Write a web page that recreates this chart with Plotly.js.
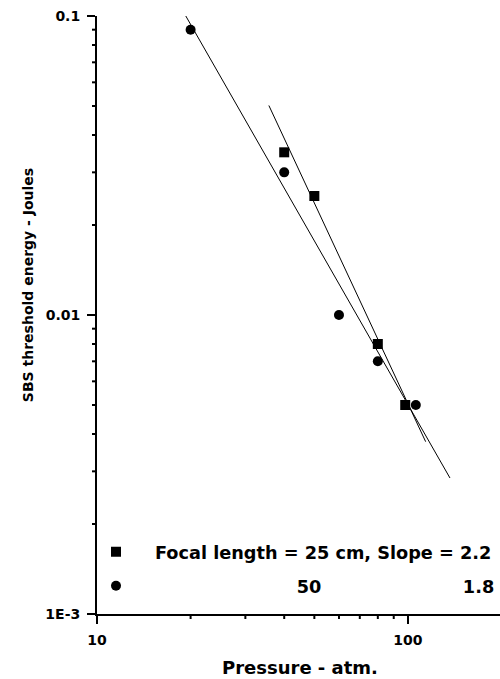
<!DOCTYPE html>
<html>
<head>
<meta charset="utf-8">
<script src="https://cdn.plot.ly/plotly-3.0.1.min.js"></script>
<style>
html,body{margin:0;padding:0;background:#fff;}
#chart{width:500px;height:679px;}
</style>
</head>
<body>
<div id="chart"></div>
<script>
// Focal length 25 cm (squares)
const pressure25 = [40, 50, 80, 98];
const energy25 = [0.035, 0.025, 0.008, 0.005];
// Focal length 50 cm (circles)
const pressure50 = [20, 40, 60, 80, 106];
const energy50 = [0.09, 0.03, 0.01, 0.007, 0.005];
// fitted lines (end points)
const fit25X = [35.7, 114];
const fit25Y = [0.0502, 0.00377];
const fit50X = [19.3, 136.5];
const fit50Y = [0.1, 0.00285];
// ticks
const xMajorVals = [10, 100];
const xMajorText = ['10', '100'];
const xMinorVals = [20, 30, 40, 50, 60, 70, 80, 90];
const yMajorVals = [0.001, 0.01, 0.1];
const yMajorText = ['1E-3', '0.01', '0.1'];
const yMinorVals = [0.002, 0.003, 0.004, 0.005, 0.006, 0.007, 0.008, 0.009,
                    0.02, 0.03, 0.04, 0.05, 0.06, 0.07, 0.08, 0.09];
const NB = '\u00a0';
const legendNames = ['Focal length = 25 cm, Slope = 2.2',
  NB.repeat(23) + '50' + NB.repeat(23) + '1.8'];

const FONT = 'DejaVu Sans, Arial, sans-serif';
const W = 500, H = 679, M = {l: 97, r: 0, t: 16, b: 65};
const plotW = W - M.l - M.r, plotH = H - M.t - M.b;
const X_RANGE = [1, 2.296];   // log10 range
const Y_RANGE = [-3, -1];     // log10 range
const MINOR_LEN = 5;

const traces = [
  {x: fit50X, y: fit50Y, mode: 'lines', line: {color: '#000', width: 1}, showlegend: false, hoverinfo: 'skip'},
  {x: fit25X, y: fit25Y, mode: 'lines', line: {color: '#000', width: 1}, showlegend: false, hoverinfo: 'skip'},
  {x: pressure25, y: energy25, mode: 'markers', name: legendNames[0], legendgroup: 'a',
   marker: {symbol: 'square', size: 10, color: '#000'}},
  {x: pressure50, y: energy50, mode: 'markers', name: legendNames[1], legendgroup: 'b',
   marker: {symbol: 'circle', size: 10, color: '#000'}}
];

// minor tick marks, placed in paper fractions from the log axis ranges
const xFrac = v => (Math.log10(v) - X_RANGE[0]) / (X_RANGE[1] - X_RANGE[0]);
const yFrac = v => (Math.log10(v) - Y_RANGE[0]) / (Y_RANGE[1] - Y_RANGE[0]);
const shapes = [];
xMinorVals.forEach(v => shapes.push({
  type: 'line', xref: 'paper', yref: 'paper', layer: 'above',
  x0: xFrac(v), x1: xFrac(v), y0: 0, y1: -MINOR_LEN / plotH,
  line: {color: '#000', width: 2}
}));
yMinorVals.forEach(v => shapes.push({
  type: 'line', xref: 'paper', yref: 'paper', layer: 'above',
  x0: 0, x1: -MINOR_LEN / plotW, y0: yFrac(v), y1: yFrac(v),
  line: {color: '#000', width: 2}
}));

const tickFont = {family: FONT, size: 14, color: '#000', weight: 'bold'};

const layout = {
  width: W, height: H,
  margin: M,
  paper_bgcolor: '#fff', plot_bgcolor: '#fff',
  xaxis: {
    type: 'log', range: X_RANGE, showgrid: false, zeroline: false,
    showline: true, linecolor: '#000', linewidth: 2,
    tickmode: 'array', tickvals: xMajorVals, ticktext: xMajorText,
    ticks: 'outside', ticklen: 8, tickwidth: 2, tickcolor: '#000',
    ticklabelstandoff: 4, tickfont: tickFont
  },
  yaxis: {
    type: 'log', range: Y_RANGE, showgrid: false, zeroline: false,
    showline: true, linecolor: '#000', linewidth: 2,
    tickmode: 'array', tickvals: yMajorVals, ticktext: yMajorText,
    ticks: 'outside', ticklen: 8, tickwidth: 2, tickcolor: '#000',
    ticklabelstandoff: 4, tickfont: tickFont
  },
  shapes: shapes,
  showlegend: true,
  legend: {
    x: 1, xanchor: 'right', y: 0.1343, yanchor: 'top',
    bgcolor: 'rgba(0,0,0,0)', borderwidth: 0, itemwidth: 68, tracegroupgap: 8,
    font: {family: FONT, size: 17.7, color: '#000', weight: 'bold'}
  },
  annotations: [
    {text: 'Pressure - atm.', xref: 'paper', yref: 'paper', x: 0.504, y: -0.0903,
     xanchor: 'center', yanchor: 'middle', showarrow: false,
     font: {family: FONT, size: 18, color: '#000', weight: 'bold'}},
    {text: 'SBS threshold energy - Joules', xref: 'paper', yref: 'paper', x: -0.171, y: 0.55,
     xanchor: 'center', yanchor: 'middle', textangle: -90, showarrow: false,
     font: {family: FONT, size: 14, color: '#000', weight: 'bold'}}
  ]
};

Plotly.newPlot('chart', traces, layout, {displayModeBar: false, staticPlot: true});
</script>
</body>
</html>
